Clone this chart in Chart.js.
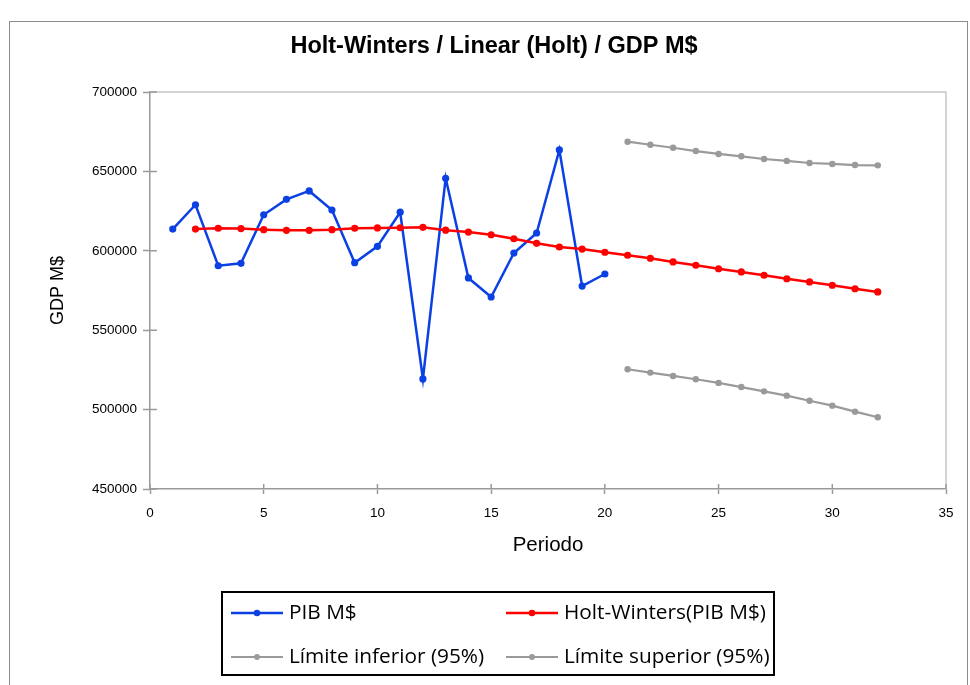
<!DOCTYPE html>
<html>
<head>
<meta charset="utf-8">
<script src="https://cdn.jsdelivr.net/npm/chart.js@4.4.1/dist/chart.umd.min.js"></script>
<style>
html,body{margin:0;padding:0;background:#fff;}
#wrap{width:970px;height:685px;position:relative;}
canvas{display:block;}
</style>
</head>
<body>
<div id="wrap"><canvas id="c" width="970" height="685"></canvas></div>
<script>
// ---- data ----
const chartTitle = 'Holt-Winters / Linear (Holt) / GDP M$';
const xTitle = 'Periodo';
const yTitle = 'GDP M$';
const seriesLabels = ['PIB M$', 'Holt-Winters(PIB M$)', 'Límite inferior (95%)', 'Límite superior (95%)'];

const pibPeriods = [1,2,3,4,5,6,7,8,9,10,11,12,13,14,15,16,17,18,19,20];
const pibValues = [613700,629000,590600,592100,622700,632400,637700,625700,592500,602800,
                   624300,519300,645700,582900,570900,598600,611200,663500,577800,585400];

const hwPeriods = [2,3,4,5,6,7,8,9,10,11,12,13,14,15,16,17,18,19,20,21,22,23,24,25,26,27,28,29,30,31,32];
const hwValues = [613700,614200,614000,613300,612900,612900,613300,614200,614400,614500,
                  614800,613000,611800,610100,607600,604700,602400,601100,599100,597200,
                  595300,593000,590900,588700,586700,584600,582400,580400,578300,576100,574100];

const limitPeriods = [21,22,23,24,25,26,27,28,29,30,31,32];
const lowerValues = [525400,523300,521200,519100,516800,514200,511500,508800,505600,502500,498700,495200];
const upperValues = [668700,666800,664900,662800,661000,659500,657800,656600,655300,654700,654000,653800];

const xMin = 0, xMax = 35, xStep = 5;
const yMin = 450000, yMax = 700000, yStep = 50000;

// ---- styles ----
const BLUE = '#0A40E4', RED = '#FF0000', GRAY = '#9A9A9A';
const FONT = '"Liberation Sans", Arial, sans-serif';
const toXY = (xs, ys) => xs.map((x, i) => ({x: x, y: ys[i]}));

const frameAndTicks = {
  id: 'frameAndTicks',
  beforeDraw(chart) {
    const ctx = chart.ctx;
    ctx.save();
    ctx.fillStyle = '#fff';
    ctx.fillRect(0, 0, chart.width, chart.height);
    ctx.strokeStyle = '#8c8c8c';
    ctx.lineWidth = 1;
    ctx.strokeRect(9.5, 21.5, 958, 720);
    ctx.restore();
  },
  beforeDatasetsDraw(chart) {
    const ctx = chart.ctx, a = chart.chartArea;
    ctx.save();
    ctx.strokeStyle = '#c6c6c6';
    ctx.lineWidth = 1.5;
    ctx.beginPath();
    ctx.moveTo(a.left, a.top); ctx.lineTo(a.right, a.top); ctx.lineTo(a.right, a.bottom);
    ctx.stroke();
    ctx.strokeStyle = '#9a9a9a';
    ctx.beginPath();
    chart.scales.y.ticks.forEach(t => {
      const py = chart.scales.y.getPixelForValue(t.value);
      ctx.moveTo(a.left, py); ctx.lineTo(a.left + 7, py);
    });
    chart.scales.x.ticks.forEach(t => {
      const px = chart.scales.x.getPixelForValue(t.value);
      ctx.moveTo(px, a.bottom); ctx.lineTo(px, a.bottom - 5);
    });
    ctx.stroke();
    ctx.restore();
  },
  afterDraw(chart) {
    const ctx = chart.ctx;
    const box = {l: 222, t: 592, r: 774, b: 675};
    ctx.save();
    ctx.strokeStyle = '#000';
    ctx.lineWidth = 2;
    ctx.strokeRect(box.l, box.t, box.r - box.l, box.b - box.t);
    const colX = [box.l + 9, box.l + 284];
    const rowY = [box.t + 21, box.t + 65];
    ctx.font = '20.8px "Open Sans"';
    ctx.textBaseline = 'middle';
    ctx.textAlign = 'left';
    chart.data.datasets.forEach((ds, i) => {
      const x = colX[i % 2], y = rowY[Math.floor(i / 2)];
      ctx.strokeStyle = ds.borderColor;
      ctx.lineWidth = ds.borderWidth;
      ctx.beginPath(); ctx.moveTo(x, y); ctx.lineTo(x + 52, y); ctx.stroke();
      ctx.fillStyle = ds.borderColor;
      ctx.beginPath(); ctx.arc(x + 26, y, ds.pointRadius * 0.9, 0, Math.PI * 2); ctx.fill();
      ctx.fillStyle = '#000';
      ctx.fillText(ds.label, x + 58, y);
    });
    ctx.restore();
  }
};

new Chart(document.getElementById('c'), {
  type: 'line',
  data: {
    datasets: [
      {label: seriesLabels[0], data: toXY(pibPeriods, pibValues), borderColor: BLUE, backgroundColor: BLUE,
       pointBackgroundColor: BLUE, borderWidth: 2.5, pointRadius: 3.6, pointBorderWidth: 0, order: 3},
      {label: seriesLabels[1], data: toXY(hwPeriods, hwValues), borderColor: RED, backgroundColor: RED,
       pointBackgroundColor: RED, borderWidth: 2.5, pointRadius: 3.6, pointBorderWidth: 0, order: 0},
      {label: seriesLabels[2], data: toXY(limitPeriods, lowerValues), borderColor: GRAY, backgroundColor: GRAY,
       pointBackgroundColor: GRAY, borderWidth: 2.2, pointRadius: 3.2, pointBorderWidth: 0, order: 2},
      {label: seriesLabels[3], data: toXY(limitPeriods, upperValues), borderColor: GRAY, backgroundColor: GRAY,
       pointBackgroundColor: GRAY, borderWidth: 2.2, pointRadius: 3.2, pointBorderWidth: 0, order: 1}
    ]
  },
  options: {
    responsive: false,
    animation: false,
    devicePixelRatio: 1,
    layout: {padding: {left: 42, right: 24, top: 0, bottom: 126}},
    plugins: {
      legend: {display: false},
      tooltip: {enabled: false},
      title: {
        display: true, text: chartTitle, color: '#000',
        font: {family: FONT, size: 23.5, weight: 'bold', lineHeight: 1.2},
        padding: {top: 32, bottom: 31.8}
      }
    },
    scales: {
      x: {
        type: 'linear', min: xMin, max: xMax,
        ticks: {stepSize: xStep, color: '#000', padding: 11, font: {family: FONT, size: 13.5}},
        grid: {drawOnChartArea: false, tickLength: 5, color: '#9a9a9a', tickWidth: 1.5},
        border: {color: '#9a9a9a', width: 1.5},
        title: {display: true, text: xTitle, color: '#000', padding: {top: 0, bottom: 1},
                font: {family: FONT, size: 20.5}},
        afterFit(s) { s.height = 70; }
      },
      y: {
        type: 'linear', min: yMin, max: yMax,
        ticks: {stepSize: yStep, color: '#000', padding: 6, font: {family: FONT, size: 13.5},
                callback: v => String(v)},
        grid: {drawOnChartArea: false, tickLength: 7, color: '#9a9a9a', tickWidth: 1.5},
        border: {color: '#9a9a9a', width: 1.5},
        title: {display: true, text: yTitle, color: '#000', padding: {top: 5, bottom: 0},
                font: {family: FONT, size: 18}},
        afterFit(s) { s.width = 108; }
      }
    }
  },
  plugins: [frameAndTicks]
});
</script>
</body>
</html>
